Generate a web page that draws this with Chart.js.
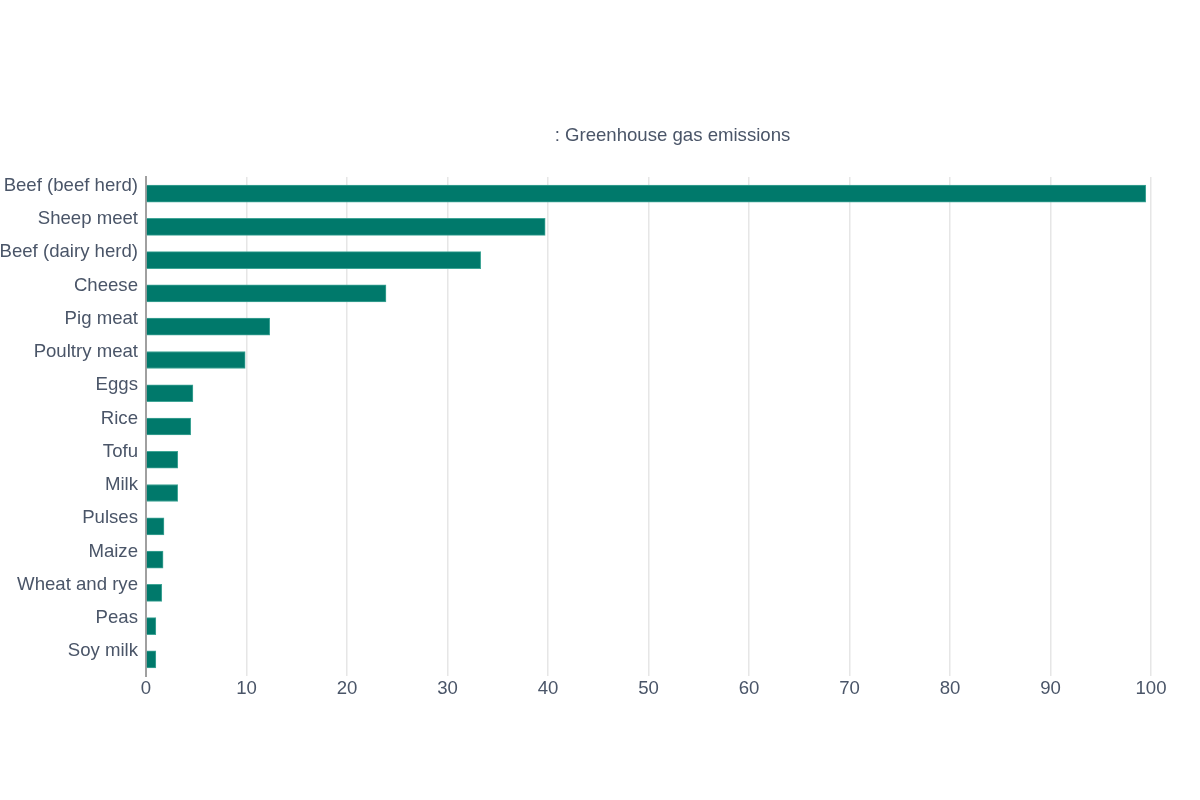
<!DOCTYPE html>
<html>
<head>
<meta charset="utf-8">
<script src="https://cdn.jsdelivr.net/npm/chart.js@4/dist/chart.umd.min.js"></script>
<style>
  html, body { margin: 0; padding: 0; background: #ffffff; }
  #wrap { position: relative; width: 1200px; height: 800px; }
</style>
</head>
<body>
<div id="wrap"><canvas id="c" width="1200" height="800"></canvas></div>
<script>
const categories = ["Beef (beef herd)", "Sheep meet", "Beef (dairy herd)", "Cheese", "Pig meat", "Poultry meat", "Eggs", "Rice", "Tofu", "Milk", "Pulses", "Maize", "Wheat and rye", "Peas", "Soy milk"];
const emissions = [99.48, 39.72, 33.3, 23.88, 12.31, 9.87, 4.67, 4.45, 3.16, 3.15, 1.79, 1.7, 1.57, 0.98, 0.98];
const xTicks = [0, 10, 20, 30, 40, 50, 60, 70, 80, 90, 100];
const titleText = ": Greenhouse gas emissions";

const textColor = '#4a5568';
const fontFamily = '"Liberation Sans", Arial, sans-serif';
const fontSize = 18.6;

const titlePlugin = {
  id: 'offsetTitle',
  afterDraw(chart) {
    const ctx = chart.ctx;
    ctx.save();
    ctx.font = fontSize + 'px ' + fontFamily;
    ctx.fillStyle = textColor;
    ctx.textAlign = 'center';
    ctx.textBaseline = 'middle';
    ctx.fillText(titleText, chart.chartArea.left + (chart.chartArea.right - chart.chartArea.left) / 2 + 24, 136);
    ctx.restore();
  }
};

new Chart(document.getElementById('c'), {
  type: 'bar',
  data: {
    labels: categories,
    datasets: [{
      label: 'Greenhouse gas emissions',
      data: emissions,
      backgroundColor: '#00796b',
      borderColor: '#3fa596',
      borderWidth: 1,
      barThickness: 17
    }]
  },
  options: {
    indexAxis: 'y',
    responsive: false,
    animation: false,
    devicePixelRatio: 1,
    layout: { padding: { top: 177, right: 49, bottom: 84, left: 0 } },
    plugins: {
      legend: { display: false },
      title: { display: false },
      tooltip: { enabled: false }
    },
    scales: {
      x: {
        min: 0,
        max: 100,
        afterBuildTicks: (scale) => { scale.ticks = xTicks.map(v => ({ value: v })); },
        afterFit: (scale) => { scale.height = 40; },
        grid: { color: '#e6e6e6', lineWidth: 1.5, drawTicks: false },
        border: { display: false },
        ticks: { color: textColor, font: { size: fontSize, family: fontFamily }, padding: 2 }
      },
      y: {
        afterFit: (scale) => { scale.width = 146; },
        grid: { display: false, drawTicks: false },
        border: { display: true, color: '#a0a0a0', width: 2 },
        ticks: { color: textColor, font: { size: fontSize, family: fontFamily }, padding: 8, labelOffset: -8 }
      }
    }
  },
  plugins: [titlePlugin]
});
</script>
</body>
</html>
